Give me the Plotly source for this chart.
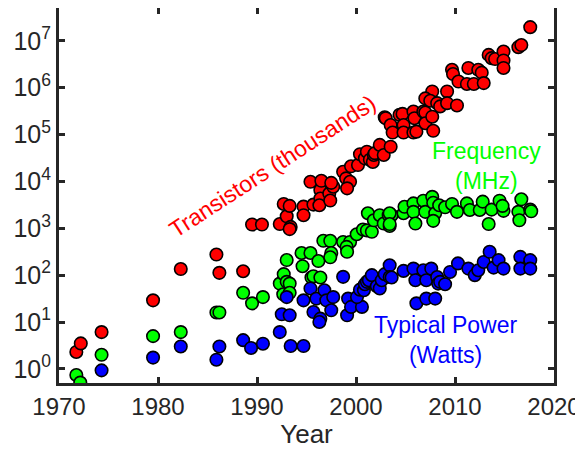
import plotly.graph_objects as go
import math

trans_year = [1971.75, 1972.2, 1974.3, 1979.5, 1982.3, 1985.9, 1986.2, 1988.6, 1989.5, 1990.5,
              1992.3, 1992.7, 1993.0, 1993.3, 1993.4, 1993.3, 1994.7, 1994.7, 1995.7, 1995.4,
              1996.4, 1996.5, 1996.4, 1996.3, 1997.3, 1997.4, 1997.7, 1997.5, 1998.7, 1999.0,
              1999.4, 1999.1, 1999.5, 2000.2, 2000.4, 2000.9, 2001.1, 2001.4, 2001.7, 2001.8,
              2001.9, 2002.4, 2002.8, 2003.5, 2002.9, 2003.0, 2003.5, 2003.7, 2004.4, 2004.7,
              2004.8, 2004.8, 2005.8, 2005.9, 2005.8, 2006.1, 2006.8, 2007.0, 2007.0, 2007.7,
              2007.8, 2007.7, 2007.0, 2007.5, 2008.2, 2008.5, 2009.2, 2009.2, 2010.2, 2009.7,
              2009.8, 2010.35, 2011.2, 2011.35, 2011.9, 2012.35, 2012.7, 2012.9, 2013.4, 2013.7,
              2014.05, 2014.9, 2014.9, 2014.9, 2016.4, 2016.7, 2017.6]
trans_val = [2.3, 3.5, 6.1, 29, 135, 275, 112, 121, 1200, 1200,
             1230, 3300, 1800, 3000, 1070, 960, 2900, 1900, 3200, 9800,
             6500, 10300, 4300, 3100, 5500, 3900, 7700, 9300, 16000, 11600,
             9800, 7100, 21000, 22300, 38000, 31000, 43000, 29000, 26000, 36600,
             40000, 60000, 36600, 55000, 234000, 223000, 159000, 110000, 263000, 275000,
             159000, 110000, 309000, 223000, 110000, 115000, 310000, 295000, 174000, 240000,
             120000, 830000, 590000, 525000, 467000, 398000, 830000, 467000, 417000, 2400000,
             1950000, 1350000, 1200000, 2630000, 1200000, 2400000, 2090000, 1250000, 5000000, 4260000,
             4070000, 5900000, 3800000, 2630000, 7300000, 8100000, 19500000]

freq_year = [1971.75, 1972.15, 1974.3, 1979.5, 1982.3, 1985.9, 1986.2, 1988.6, 1989.5, 1990.6,
             1992.3, 1992.65, 1992.7, 1993.0, 1993.0, 1993.3, 1993.3, 1994.5, 1994.6, 1995.4,
             1995.5, 1995.7, 1996.2, 1996.4, 1996.7, 1997.4, 1997.5, 1997.4, 1998.7, 1999.4,
             1999.05, 1999.1, 2000.07, 2000.7, 2001.1, 2001.2, 2001.6, 2001.8, 2002.4, 2002.8,
             2003.3, 2003.6, 2003.4, 2003.4, 2003.4, 2004.8, 2004.9, 2005.8, 2005.8, 2006.0,
             2006.8, 2007.0, 2007.7, 2007.8, 2008.0, 2007.8, 2008.4, 2009.0, 2009.7, 2010.2,
             2011.2, 2011.5, 2012.5, 2012.8, 2013.4, 2013.7, 2014.5, 2014.9, 2014.8, 2016.7,
             2016.4, 2016.5, 2017.6, 2017.7]
freq_val = [0.74, 0.51, 2.0, 5.0, 6.1, 16, 16, 42, 25, 34,
            66, 39, 105, 210, 72, 66, 42, 297, 155, 297,
            89, 95, 200, 89, 540, 540, 297, 240, 510, 510,
            400, 315, 745, 940, 900, 2090, 840, 1480, 1900, 1260,
            1900, 1900, 1120, 2090, 1230, 2090, 2870, 3390, 2240, 1260,
            3870, 2240, 4680, 3500, 2090, 1440, 3100, 2800, 3300, 2240,
            3390, 2450, 2450, 3700, 1230, 2500, 3870, 2350, 3000, 4150,
            2240, 1480, 2500, 2300]

power_year = [1974.3, 1979.5, 1982.3, 1985.9, 1986.2, 1988.6, 1989.4, 1990.6, 1992.3, 1992.5,
              1993.3, 1993.4, 1994.7, 1993.0, 1994.7, 1995.4, 1995.7, 1996.4, 1996.3, 1996.0,
              1996.8, 1997.0, 1997.5, 1997.7, 1998.7, 1999.1, 1999.2, 1999.5, 2000.6, 2000.1,
              2000.4, 2000.8, 2000.9, 2001.1, 2001.3, 2001.6, 2002.1, 2002.4, 2002.6, 2002.9,
              2003.4, 2003.4, 2003.6, 2004.8, 2005.8, 2006.0, 2006.1, 2006.8, 2007.1, 2007.1,
              2007.6, 2008.0, 2008.2, 2008.3, 2008.5, 2009.0, 2009.5, 2010.3, 2011.35, 2012.0,
              2012.35, 2012.9, 2013.5, 2013.9, 2014.4, 2014.9, 2016.6, 2016.6, 2017.6, 2017.6]
power_val = [0.93, 1.74, 3.0, 1.57, 3.0, 4.1, 2.8, 3.45, 6.1, 14.6,
             13.9, 3.07, 3.07, 34, 29, 52, 16.3, 11.8, 10, 31.6,
             47.6, 29, 17.8, 34, 92, 13.9, 31.6, 21, 21, 34,
             49, 47.6, 64, 72, 78, 100, 58, 52, 78, 105,
             162, 91, 89, 123, 138, 78, 25, 127, 78, 31.6,
             138, 31.6, 91, 66, 72, 64, 117, 178, 138, 100,
             127, 191, 315, 145, 209, 138, 245, 138, 209, 138]

x_ticks = [1970, 1980, 1990, 2000, 2010, 2020]
y_exps = [0, 1, 2, 3, 4, 5, 6, 7]

FONT = "Liberation Sans, Arial, sans-serif"
AX = "#262626"

fig = go.Figure()
for xs, ys, col in [(trans_year, trans_val, "#ff0000"),
                    (freq_year, freq_val, "#00ff00"),
                    (power_year, power_val, "#0000ff")]:
    fig.add_trace(go.Scatter(x=xs, y=ys, mode="markers",
                             marker=dict(size=12.5, color=col, line=dict(color="black", width=1.6)),
                             showlegend=False))

fig.add_annotation(x=1991.6, y=4.33, text="Transistors (thousands)", showarrow=False,
                   textangle=-33, font=dict(family=FONT, size=23, color="#ff0000"))
fig.add_annotation(x=2013.2, y=4.33, text="Frequency<br>(MHz)", showarrow=False,
                   font=dict(family=FONT, size=23, color="#00ff00"))
fig.add_annotation(x=2009.1, y=0.62, text="Typical Power<br>(Watts)", showarrow=False,
                   font=dict(family=FONT, size=23, color="#0000ff"))

fig.update_layout(
    width=575, height=441,
    margin=dict(l=51, r=29, t=0, b=66, autoexpand=False),
    paper_bgcolor="white", plot_bgcolor="white",
    font=dict(family=FONT, color=AX),
    xaxis=dict(range=[1970, 2020], tickvals=x_ticks, ticks="inside", ticklen=6, tickwidth=3,
               tickcolor=AX, showline=True, linewidth=3, linecolor=AX, mirror="allticks",
               showgrid=False, zeroline=False, tickfont=dict(size=24, color=AX),
               title=dict(text="Year", font=dict(size=26, color=AX), standoff=5)),
    yaxis=dict(type="log", range=[math.log10(0.5), math.log10(5e7)],
               tickvals=[10 ** e for e in y_exps],
               ticktext=["10<sup>%d</sup>" % e for e in y_exps],
               ticks="inside", ticklen=6, tickwidth=3, tickcolor=AX,
               showline=True, linewidth=3, linecolor=AX, mirror="allticks",
               showgrid=False, zeroline=False, tickfont=dict(size=25, color=AX)),
)

fig.write_html("out.html")
